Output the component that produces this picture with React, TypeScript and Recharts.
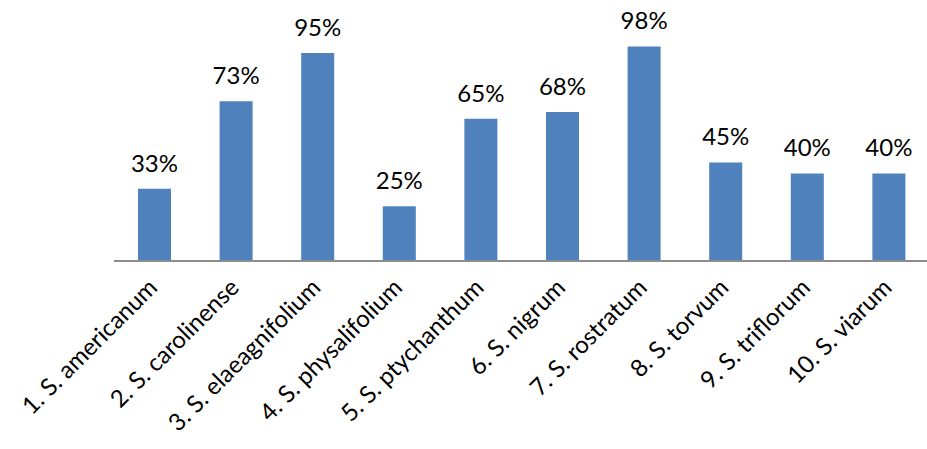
import React from "react";
import { Bar, BarChart, LabelList, XAxis, YAxis } from "recharts";

const species = [
  "1. S. americanum",
  "2. S. carolinense",
  "3. S. elaeagnifolium",
  "4. S. physalifolium",
  "5. S. ptychanthum",
  "6. S. nigrum",
  "7. S. rostratum",
  "8. S. torvum",
  "9. S. triflorum",
  "10. S. viarum",
];

const percent = [33, 73, 95, 25, 65, 68, 98, 45, 40, 40];

const data = species.map((name, i) => ({ name, value: percent[i] }));

const FONT = "Lato, 'Open Sans', sans-serif";

function SlantTick(props: { x?: number; y?: number; payload?: { value?: string } }) {
  const x = props.x ?? 0;
  const y = props.y ?? 0;
  return (
    <text
      x={0}
      y={0}
      transform={`translate(${x + 4}, ${y + 20}) rotate(-45)`}
      textAnchor="end"
      fill="#000"
      fontSize={24}
      fontFamily={FONT}
    >
      {props.payload?.value}
    </text>
  );
}

export default function App() {
  return (
    <div style={{ width: 927, height: 449, overflow: "hidden", background: "#fff" }}>
      <style>{"body{margin:0}"}</style>
      <BarChart
        width={930}
        height={449}
        data={data}
        margin={{ top: 42, right: 0, bottom: 0, left: 114 }}
        barSize={33}
      >
        <XAxis
          dataKey="name"
          height={188}
          interval={0}
          tickLine={false}
          axisLine={{ stroke: "#8c8c8c", strokeWidth: 2 }}
          tick={<SlantTick />}
        />
        <YAxis hide domain={[0, 100]} />
        <Bar dataKey="value" fill="#4f81bd" isAnimationActive={false}>
          <LabelList
            dataKey="value"
            position="top"
            offset={17}
            formatter={(v: number) => `${v}%`}
            fill="#000"
            fontSize={24}
            fontFamily={FONT}
          />
        </Bar>
      </BarChart>
    </div>
  );
}
